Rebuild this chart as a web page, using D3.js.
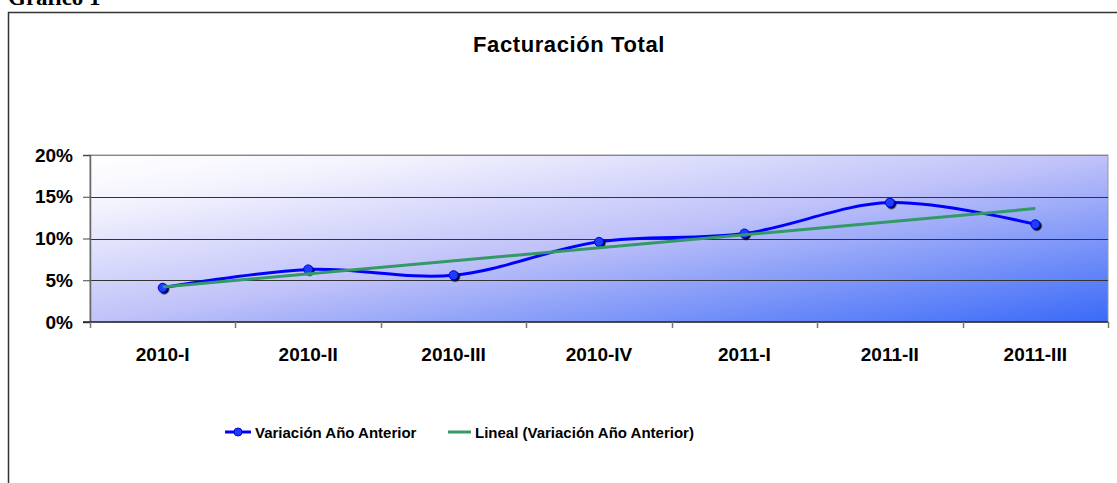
<!DOCTYPE html>
<html>
<head>
<meta charset="utf-8">
<script src="https://cdn.jsdelivr.net/npm/d3@7"></script>
<style>
  body { margin: 0; background: #fff; }
  svg { display: block; font-family: "Liberation Sans", Arial, sans-serif; }
</style>
</head>
<body>
<div id="chart"></div>
<script>
// Data
const periods = ["2010-I", "2010-II", "2010-III", "2010-IV", "2011-I", "2011-II", "2011-III"];
const variacion = [4.1, 6.3, 5.6, 9.6, 10.6, 14.3, 11.7];
const yTicks = [0, 5, 10, 15, 20];

const width = 1117;
const height = 483;
const plot = { left: 90, right: 1108, top: 155, bottom: 322 };

const svg = d3.select("#chart")
  .append("svg")
  .attr("width", width)
  .attr("height", height);

// Background gradient of the plot area
const defs = svg.append("defs");
const grad = defs.append("linearGradient")
  .attr("id", "bg")
  .attr("x1", 0).attr("y1", 0)
  .attr("x2", 1).attr("y2", 1);
grad.append("stop").attr("offset", "0%").attr("stop-color", "#ffffff");
grad.append("stop").attr("offset", "15%").attr("stop-color", "#f4f4fe");
grad.append("stop").attr("offset", "50%").attr("stop-color", "#c0c2f9");
grad.append("stop").attr("offset", "100%").attr("stop-color", "#3a6af8");

const shadow = defs.append("filter").attr("id", "shadow")
  .attr("x", "-50%").attr("y", "-50%").attr("width", "200%").attr("height", "200%");
shadow.append("feDropShadow")
  .attr("dx", 1.5).attr("dy", 1.5).attr("stdDeviation", 0.4)
  .attr("flood-color", "#000").attr("flood-opacity", 1);

// Caption, cut off at the top as in the source
svg.append("text")
  .attr("x", 8)
  .attr("y", 5)
  .attr("font-family", "Liberation Serif, Times New Roman, serif")
  .attr("font-weight", "bold")
  .attr("font-size", 23)
  .text("Gráfico 1");

// Outer frame (left and top)
svg.append("path")
  .attr("d", `M8.5,${height} V12.5 H${width}`)
  .attr("fill", "none")
  .attr("stroke", "#333")
  .attr("stroke-width", 1.5);

// Title
svg.append("text")
  .attr("x", 569)
  .attr("y", 52)
  .attr("text-anchor", "middle")
  .attr("font-weight", "bold")
  .attr("font-size", 22)
  .attr("letter-spacing", 0.6)
  .text("Facturación Total");

// Scales
const x = d3.scaleBand()
  .domain(periods)
  .range([plot.left, plot.right]);

const y = d3.scaleLinear()
  .domain([0, 20])
  .range([plot.bottom, plot.top]);

// Plot area
svg.append("rect")
  .attr("x", plot.left)
  .attr("y", plot.top)
  .attr("width", plot.right - plot.left)
  .attr("height", plot.bottom - plot.top)
  .attr("fill", "url(#bg)")
  .attr("stroke", "#999")
  .attr("stroke-width", 1);

// Gridlines
svg.append("g")
  .selectAll("line")
  .data(yTicks.filter(d => d > 0))
  .enter()
  .append("line")
  .attr("x1", plot.left)
  .attr("x2", plot.right)
  .attr("y1", d => Math.round(y(d)) + 0.5)
  .attr("y2", d => Math.round(y(d)) + 0.5)
  .attr("stroke", d => d === 20 ? "#888" : "#333")
  .attr("stroke-width", 1);

// Y axis
const yAxis = svg.append("g")
  .attr("transform", `translate(${plot.left},0)`)
  .call(d3.axisLeft(y).tickValues(yTicks).tickFormat(d => d + "%").tickSize(7).tickPadding(10));
yAxis.select(".domain").attr("stroke", "#666").attr("stroke-width", 1.5);
yAxis.selectAll(".tick line").attr("stroke", "#444");
yAxis.selectAll("text")
  .attr("font-size", 19)
  .attr("font-weight", "bold")
  .attr("fill", "#000")
  .attr("font-family", "Liberation Sans, Arial, sans-serif");

// X axis (ticks between categories)
const xAxisG = svg.append("g")
  .attr("transform", `translate(0,${plot.bottom})`);
xAxisG.append("line")
  .attr("x1", plot.left - 7).attr("x2", plot.right)
  .attr("y1", 0).attr("y2", 0)
  .attr("stroke", "#222").attr("stroke-width", 1.5);
xAxisG.selectAll("line.tk")
  .data(d3.range(periods.length + 1))
  .enter()
  .append("line")
  .attr("class", "tk")
  .attr("x1", i => Math.round(plot.left + i * x.step()) + 0.5)
  .attr("x2", i => Math.round(plot.left + i * x.step()) + 0.5)
  .attr("y1", 0).attr("y2", 6)
  .attr("stroke", "#777").attr("stroke-width", 1.5);
xAxisG.selectAll("text")
  .data(periods)
  .enter()
  .append("text")
  .attr("x", d => x(d) + x.bandwidth() / 2)
  .attr("y", 39)
  .attr("text-anchor", "middle")
  .attr("font-size", 19)
  .attr("font-weight", "bold")
  .text(d => d);

// Linear trend (least squares of the series)
const n = variacion.length;
const xs = d3.range(1, n + 1);
const mx = d3.mean(xs);
const my = d3.mean(variacion);
const slope = d3.sum(xs, (v, i) => (v - mx) * (variacion[i] - my)) / d3.sum(xs, v => (v - mx) * (v - mx));
const intercept = my - slope * mx;
const trend = [1, n].map(t => ({ p: periods[t - 1], v: intercept + slope * t }));

const cx = d => x(d) + x.bandwidth() / 2;

// Series line (smoothed)
const line = d3.line()
  .x((d, i) => cx(periods[i]))
  .y(d => y(d))
  .curve(d3.curveCatmullRom.alpha(0.5));

svg.append("path")
  .datum(variacion)
  .attr("d", line)
  .attr("fill", "none")
  .attr("stroke", "#0000ff")
  .attr("stroke-width", 3);

// Markers
svg.append("g")
  .selectAll("circle")
  .data(variacion)
  .enter()
  .append("circle")
  .attr("cx", (d, i) => cx(periods[i]))
  .attr("cy", d => y(d))
  .attr("r", 4.5)
  .attr("fill", "#1a3cff")
  .attr("stroke", "#0000dd")
  .attr("stroke-width", 1)
  .attr("filter", "url(#shadow)");

// Trend line
svg.append("line")
  .attr("x1", cx(trend[0].p))
  .attr("y1", y(trend[0].v))
  .attr("x2", cx(trend[1].p))
  .attr("y2", y(trend[1].v))
  .attr("stroke", "#339966")
  .attr("stroke-width", 3);

// Legend
const legend = svg.append("g").attr("transform", "translate(0,432)");
legend.append("line")
  .attr("x1", 225).attr("x2", 251).attr("y1", 0).attr("y2", 0)
  .attr("stroke", "#0000ff").attr("stroke-width", 3);
legend.append("circle")
  .attr("cx", 238).attr("cy", 0).attr("r", 4)
  .attr("fill", "#1a3cff").attr("stroke", "#0000dd");
legend.append("text")
  .attr("x", 255).attr("y", 5.5)
  .attr("font-size", 15).attr("font-weight", "bold")
  .text("Variación Año Anterior");
legend.append("line")
  .attr("x1", 448).attr("x2", 471).attr("y1", 0).attr("y2", 0)
  .attr("stroke", "#339966").attr("stroke-width", 3);
legend.append("text")
  .attr("x", 475).attr("y", 5.5)
  .attr("font-size", 15).attr("font-weight", "bold")
  .text("Lineal (Variación Año Anterior)");
</script>
</body>
</html>
